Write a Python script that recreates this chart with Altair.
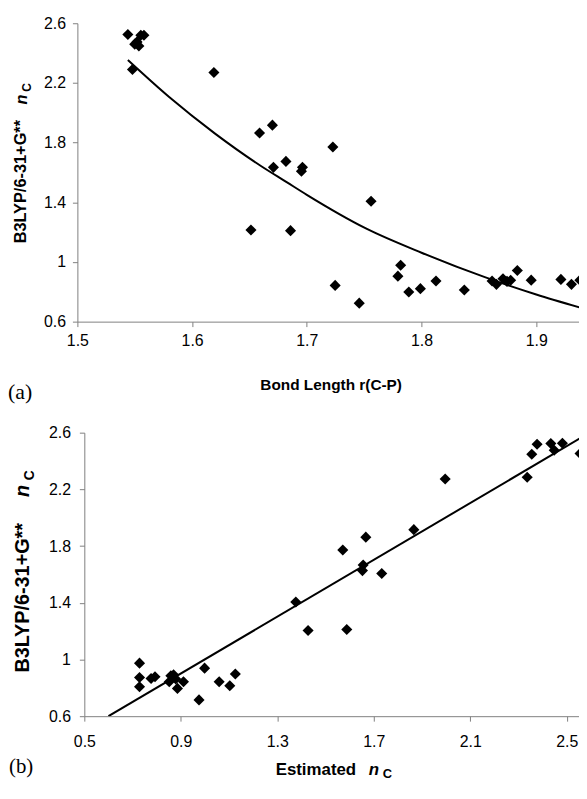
import altair as alt
import pandas as pd

# ---------------- Panel (a): Bond length vs nC ----------------
a_bond = [1.544, 1.550, 1.552, 1.5536, 1.5553, 1.558, 1.548, 1.619,
          1.6588, 1.670, 1.6709, 1.6818, 1.6513, 1.6858, 1.6962, 1.6953,
          1.7227, 1.756, 1.7247, 1.7457, 1.7818, 1.7794, 1.7889, 1.799,
          1.8126, 1.8373, 1.8615, 1.8653, 1.871, 1.8745, 1.8777, 1.8835,
          1.8956, 1.9215, 1.9307, 1.938]
a_nc = [2.525, 2.46, 2.475, 2.447, 2.52, 2.52, 2.29, 2.27,
        1.864, 1.917, 1.634, 1.674, 1.214, 1.21, 1.634, 1.608,
        1.771, 1.407, 0.843, 0.724, 0.978, 0.905, 0.799, 0.821,
        0.872, 0.812, 0.872, 0.85, 0.888, 0.87, 0.877, 0.943,
        0.878, 0.883, 0.85, 0.878]
# trend curve
a_fit_x = [1.544, 1.58, 1.62, 1.66, 1.6824, 1.70, 1.7515, 1.80, 1.8552, 1.90, 1.938]
a_fit_y = [2.353, 2.105, 1.86, 1.643, 1.535, 1.45, 1.225, 1.062, 0.898, 0.782, 0.695]
a_xticks = [1.5, 1.6, 1.7, 1.8, 1.9]
a_yticks = [0.6, 1.0, 1.4, 1.8, 2.2, 2.6]

# ---------------- Panel (b): Estimated nC vs nC ----------------
b_est = [0.7288, 0.7288, 0.7288, 0.7766, 0.793, 0.8588, 0.87, 0.852,
         0.879, 0.886, 0.911, 0.9755, 0.9986, 1.059, 1.103, 1.126,
         1.3767, 1.4276, 1.5715, 1.588, 1.667, 1.656, 1.653, 1.733,
         1.866, 1.996, 2.336, 2.355, 2.377, 2.434, 2.448, 2.482, 2.555]
b_nc = [0.974, 0.873, 0.808, 0.866, 0.878, 0.885, 0.892, 0.843,
        0.862, 0.796, 0.843, 0.715, 0.939, 0.843, 0.815, 0.897,
        1.405, 1.205, 1.772, 1.212, 1.863, 1.667, 1.627, 1.606,
        1.916, 2.273, 2.285, 2.448, 2.518, 2.523, 2.476, 2.525, 2.453]
b_fit_x = [0.6, 2.56]
b_fit_y = [0.6, 2.565]
b_xticks = [0.5, 0.9, 1.3, 1.7, 2.1, 2.5]
b_yticks = [0.6, 1.0, 1.4, 1.8, 2.2, 2.6]

FONT = "Liberation Sans"
SERIF = "Liberation Serif"


def label(txt, x, y, size, weight="normal", style="normal", angle=0,
          align="left", baseline="alphabetic", font=FONT):
    return alt.Chart(pd.DataFrame({"t": [txt]})).mark_text(
        text=txt, fontSize=size, fontWeight=weight, fontStyle=style,
        angle=angle, align=align, baseline=baseline, font=font, color="black"
    ).encode(x=alt.value(x), y=alt.value(y))


def axis(vals, pad, offset=0):
    return alt.Axis(values=vals, format="~g", title=None, grid=False,
                    labelPadding=pad, labelFlush=False, offset=offset)


W = 508

# ---- panel (a)
ha = 301
df_a = pd.DataFrame({"x": a_bond, "y": a_nc})
df_af = pd.DataFrame({"x": a_fit_x, "y": a_fit_y})
xa = alt.X("x:Q", scale=alt.Scale(domain=[1.5, 1.939], nice=False, zero=False),
           axis=axis(a_xticks, 6))
ya = alt.Y("y:Q", scale=alt.Scale(domain=[0.6, 2.6], nice=False, zero=False),
           axis=axis(a_yticks, 7))
pts_a = alt.Chart(df_a).mark_point(shape="diamond", filled=True, color="black",
                                   size=125, opacity=1, clip=True).encode(x=xa, y=ya)
fit_a = alt.Chart(df_af).mark_line(color="black", strokeWidth=2, clip=True,
                                   interpolate="monotone").encode(x=xa, y=ya)

panel_a = alt.layer(
    pts_a, fit_a,
    label("B3LYP/6-31+G**", -51.5, 222, 16.5, weight="bold", angle=270),
    label("n", -51, 82, 16.5, weight="bold", style="italic", angle=270),
    label("C", -47, 69, 12, weight="bold", angle=270),
    label("Bond Length r(C-P)", 256, 370, 15.5, weight="bold", align="center"),
    label("(a)", -70, 372, 22, baseline="middle", font=SERIF),
).properties(width=W, height=ha)

# ---- panel (b)  (plot starts 7px further right: scale range + axis offset)
hb = 286
SH = 7
df_b = pd.DataFrame({"x": b_est, "y": b_nc})
df_bf = pd.DataFrame({"x": b_fit_x, "y": b_fit_y})
xb = alt.X("x:Q", scale=alt.Scale(domain=[0.5, 2.559], range=[SH, W], nice=False, zero=False),
           axis=axis(b_xticks, 13))
yb = alt.Y("y:Q", scale=alt.Scale(domain=[0.6, 2.6], nice=False, zero=False),
           axis=axis(b_yticks, 9, offset=-SH))
pts_b = alt.Chart(df_b).mark_point(shape="diamond", filled=True, color="black",
                                   size=125, opacity=1, clip=True).encode(x=xb, y=yb)
fit_b = alt.Chart(df_bf).mark_line(color="black", strokeWidth=2, clip=True).encode(x=xb, y=yb)

panel_b = alt.layer(
    pts_b, fit_b,
    label("B3LYP/6-31+G**", -48.5, 242, 20, weight="bold", angle=270),
    label("n", -49, 65, 20, weight="bold", style="italic", angle=270),
    label("C", -44, 48, 14, weight="bold", angle=270),
    label("Estimated", 200, 345, 17, weight="bold"),
    label("n", 294, 345, 17, weight="bold", style="italic"),
    label("C", 308, 348, 13, weight="bold"),
    label("(b)", -69, 337, 21, baseline="middle", font=SERIF),
).properties(width=W, height=hb)

chart = alt.ConcatChart(
    concat=[panel_a, panel_b], columns=1, spacing=22
).properties(
    padding={"left": 0, "top": 4, "right": -2, "bottom": -3}
).configure_view(stroke=None).configure_axis(
    domainColor="#808080", tickColor="#808080", tickSize=5,
    labelFont=FONT, labelFontSize=16, labelColor="black"
)

chart.save("out.html", embed_options={"renderer": "svg", "actions": False})
